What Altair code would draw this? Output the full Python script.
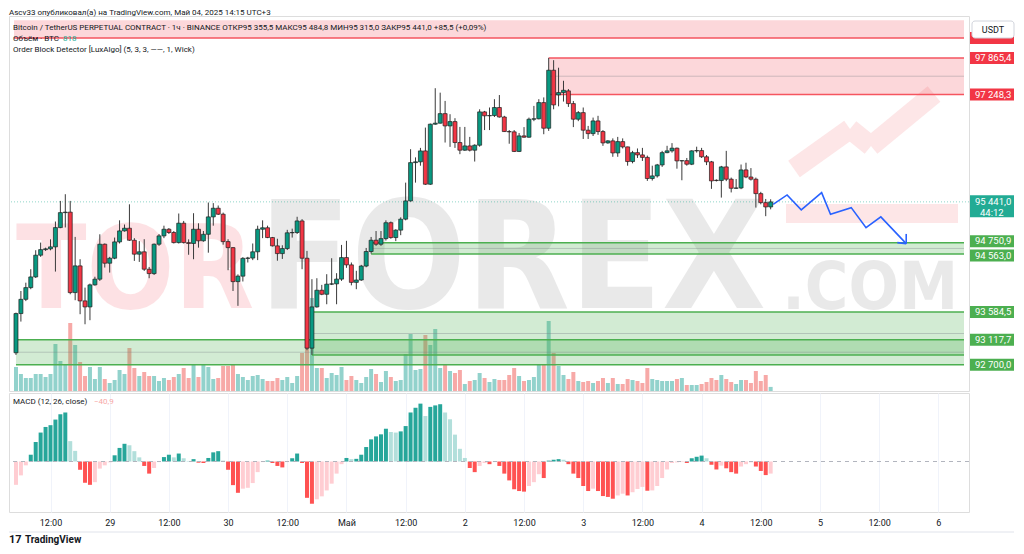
import altair as alt
import pandas as pd

HOUR = 3600000


def ms(s):
    return int(pd.Timestamp(s, tz="UTC").timestamp() * 1000)


# ---------------- data ----------------
first_candle = "2025-04-28 05:00"

open_ = [92900, 93560, 93800, 93997, 94177, 94543, 94637, 94650, 94683, 95008,
         95260, 95268, 93913, 94363, 93773, 93672, 94043, 94139, 94728, 94408,
         94492, 94767, 94952, 94997, 94795, 94560, 94600, 94307, 94233, 94728,
         94868, 94980, 94925, 94755, 95082, 94755, 94740, 94980, 94785, 94895,
         95188, 95334, 95233, 94772, 94670, 94098, 94190, 94490, 94495, 94600,
         94980, 95005, 94840, 94700, 94570, 94655, 94920, 94925, 95120, 94492,
         92977, 93672, 93953, 93885, 94055, 94060, 94140, 94503, 94380, 94085,
         94125, 94360, 94605, 94795, 94728, 94822, 95090, 94840, 94965, 95150,
         95457, 96102, 96115, 96299, 95738, 96749, 96766, 96927, 96720, 96793,
         96440, 96311, 96383, 96311, 96395, 96956, 96890, 96895, 97030, 96870,
         96625, 96620, 96290, 96552, 96530, 96833, 96840, 97113, 96681, 97658,
         97242, 97282, 97310, 97096, 96833, 96944, 96648, 96590, 96804, 96625,
         96434, 96468, 96265, 96456, 96367, 96120, 96270, 96232, 96190, 95834,
         95878, 96063, 96270, 96300, 96345, 96131, 96135, 96075, 96300, 96305,
         96200, 96115, 95805, 95800, 96030, 95823, 95670, 95675, 95979, 95860,
         95823, 95580, 95428, 95355.5]
high_ = [93576, 93940, 94080, 94307, 94627, 94755, 94670, 94810, 95110, 95457,
         95570, 95457, 94851, 94475, 93997, 94065, 94180, 94895, 94740, 94515,
         94840, 95130, 95060, 95400, 94830, 94780, 94812, 94345, 94740, 94900,
         95040, 95000, 94950, 95245, 95120, 94810, 95250, 95080, 94950, 95430,
         95420, 95380, 95260, 94812, 94680, 94220, 94510, 94515, 94740, 95040,
         95130, 95040, 94850, 94820, 94710, 94970, 94990, 95190, 95150, 94615,
         94139, 94155, 94043, 94223, 94492, 94240, 94716, 94785, 94420, 94280,
         94380, 94665, 94850, 94950, 94950, 95130, 95110, 94980, 95180, 95765,
         96328, 96190, 96350, 96692, 96760, 97355, 97280, 97141, 96917, 96850,
         96703, 96703, 96535, 96410, 97000, 96973, 97030, 97170, 97240, 96890,
         96650, 96650, 96600, 96700, 96860, 97057, 97170, 97200, 97865.4, 97827,
         97700, 97480, 97340, 97140, 96970, 97030, 96720, 96860, 96890, 96650,
         96480, 96510, 96535, 96510, 96370, 96300, 96340, 96350, 96220, 96050,
         96080, 96300, 96385, 96430, 96355, 96140, 96180, 96310, 96370, 96350,
         96230, 96130, 95820, 96047, 96300, 95850, 95825, 96070, 96100, 96010,
         95850, 95610, 95490, 95484.8]
low_ = [92864, 93425, 93770, 93970, 94160, 94515, 94615, 94625, 94267, 94998,
        95010, 93885, 93785, 93549, 93380, 93448, 94030, 94110, 94335, 94250,
        94475, 94740, 94940, 94784, 94447, 94430, 94278, 94155, 94210, 94700,
        94830, 94900, 94740, 94740, 94740, 94550, 94475, 94670, 94770, 94585,
        95040, 95220, 94720, 94290, 93940, 93690, 94100, 94420, 94460, 94460,
        94830, 94830, 94690, 94450, 94480, 94630, 94840, 94900, 94307, 92943,
        92864, 93660, 93870, 93717, 94040, 93717, 94110, 94330, 94035, 93970,
        94110, 94340, 94570, 94700, 94700, 94790, 94820, 94780, 94880, 95130,
        95445, 95765, 96050, 95727, 95727, 96740, 96760, 96440, 96367, 96350,
        96244, 96300, 96290, 96120, 96370, 96650, 96650, 96870, 96860, 96620,
        96420, 96280, 96280, 96520, 96520, 96800, 96830, 96580, 96636, 97000,
        97050, 97130, 97040, 96700, 96800, 96500, 96500, 96550, 96570, 96384,
        96420, 96200, 96200, 96340, 96050, 96090, 96180, 96130, 95794, 95800,
        95850, 96030, 96260, 96270, 96000, 95805, 96050, 96060, 96270, 96180,
        96060, 95660, 95785, 95513, 95790, 95600, 95660, 95655, 95840, 95800,
        95345, 95400, 95200, 95315]
close_ = [93560, 93800, 93997, 94177, 94543, 94637, 94650, 94683, 95008, 95260,
          95268, 93913, 94363, 93773, 93672, 94043, 94139, 94728, 94408, 94492,
          94767, 94952, 94997, 94795, 94560, 94600, 94307, 94233, 94728, 94868,
          94980, 94925, 94755, 95082, 94755, 94740, 94980, 94785, 94895, 95188,
          95334, 95233, 94772, 94670, 94098, 94190, 94490, 94495, 94600, 94980,
          95005, 94840, 94700, 94570, 94655, 94920, 94925, 95120, 94492, 92977,
          93672, 93953, 93885, 94055, 94060, 94140, 94503, 94380, 94085, 94125,
          94360, 94605, 94795, 94728, 94822, 95090, 94840, 94965, 95150, 95457,
          96102, 96115, 96299, 95738, 96749, 96766, 96927, 96720, 96793, 96440,
          96311, 96383, 96311, 96395, 96956, 96890, 96895, 97030, 96870, 96625,
          96620, 96290, 96552, 96530, 96833, 96840, 97113, 96681, 97658, 97074,
          97282, 97320, 97096, 96833, 96944, 96648, 96590, 96804, 96625, 96434,
          96468, 96265, 96456, 96367, 96120, 96270, 96232, 96190, 95834, 95878,
          96063, 96270, 96300, 96345, 96131, 96135, 96075, 96300, 96305, 96200,
          96115, 95794, 95800, 96030, 95823, 95670, 95675, 95979, 95860, 95823,
          95580, 95428, 95355.5, 95441]
volume_btc = [4800, 3400, 2600, 2600, 3400, 3400, 2800, 3400, 9400, 6000,
              5400, 13600, 9200, 5800, 3000, 4800, 2400, 4800, 2400, 1600,
              2200, 4200, 3400, 8600, 4600, 3000, 3800, 3000, 3000, 2000,
              2600, 2200, 2800, 3400, 4600, 2600, 5400, 2800, 5400, 4800,
              2400, 2600, 5000, 5000, 5400, 3400, 2800, 2200, 3000, 3200,
              2400, 2000, 2000, 2600, 2200, 2800, 1600, 3000, 7600, 13600,
              18600, 4600, 4600, 2600, 3600, 3200, 4800, 2200, 3000, 2200,
              1600, 2800, 4400, 3400, 1800, 4000, 2800, 2000, 2200, 7400,
              11400, 4200, 4400, 11200, 9200, 12400, 4600, 5400, 4000, 3600,
              4200, 1400, 2000, 2200, 3600, 2600, 1800, 2400, 2200, 2200,
              3200, 4600, 3000, 2000, 2200, 2800, 5400, 5400, 14000, 7600,
              5000, 3200, 2400, 3800, 2000, 1800, 2000, 1600, 2000, 2600,
              1600, 2600, 1400, 1400, 2400, 2200, 2000, 1600, 4600, 2400,
              2200, 2000, 2000, 2000, 2400, 2600, 1200, 1200, 1200, 1400,
              1800, 2600, 2200, 3200, 2400, 1800, 1400, 2200, 2200, 1600,
              4000, 2000, 3200, 818]
macd_hist = [-79, -47, -13, 23, 66, 98, 117, 123, 142, 160,
             166, 69, 36, -28, -72, -79, -70, -24, -13, -3,
             21, 46, 60, 55, 35, 14, -15, -41, -22, -2,
             15, 23, 14, 27, 11, 2, 8, -4, -5, 12,
             31, 35, 3, -28, -80, -106, -92, -89, -73, -36,
             -2, 3, -5, -15, -20, -2, 11, 27, -5, -123,
             -143, -128, -118, -98, -75, -41, -9, 12, 8, 9,
             23, 49, 75, 85, 92, 111, 100, 98, 102, 120,
             166, 182, 196, 154, 185, 190, 194, 166, 143, 91,
             43, 12, -22, -36, -15, -5, -9, -2, -15, -41,
             -64, -94, -100, -102, -83, -70, -43, -56, 3, 6,
             8, 6, -9, -41, -56, -83, -100, -92, -100, -117,
             -120, -126, -115, -109, -115, -104, -93, -86, -99, -98,
             -83, -56, -27, -5, -3, -2, -5, 11, 16, 20,
             11, -11, -27, -14, -23, -36, -41, -17, -9, -3,
             -17, -32, -46, -40.9]

zone_kind = ["bear", "bear", "bull", "bull", "bull"]
zone_start = ["2025-04-28 04:36", "2025-05-02 17:00", "2025-05-01 05:00",
              "2025-04-30 17:00", "2025-04-28 05:00"]
zone_bottom = [98200.0, 97248.3, 94563.0, 92864.0, 92700.0]
zone_top = [98500.0, 97865.4, 94750.9, 93584.5, 93117.7]

label_price = [98200.0, 97865.4, 97248.3, 94750.9, 94563.0, 93584.5, 93117.7, 92700.0]
label_kind = ["bear", "bear", "bear", "bull", "bull", "bull", "bull", "bull"]
last_price = 95441.0
countdown = "44:12"

fc_time = ["2025-05-04 14:30", "2025-05-04 17:20", "2025-05-04 20:12",
           "2025-05-05 00:20", "2025-05-05 02:08", "2025-05-05 06:20",
           "2025-05-05 09:20", "2025-05-05 12:20", "2025-05-05 17:29"]
fc_price = [95400, 95558, 95306, 95597, 95233, 95344, 95007, 95188, 94738]
arrow_time = ["2025-05-05 17:29", "2025-05-05 15:41"]
arrow_price = [94901, 94755]

price_ticks = list(range(92400, 98001, 400))
hidden_ticks = [97200, 95200, 94800, 93600, 93200]   # covered by price labels
macd_ticks = [-100, 0, 100, 200]
time_ticks = [ms("2025-04-28 12:00") + i * 12 * HOUR for i in range(16)]

# ---------------- layout ----------------
W, H, HM = 960, 375, 119
PX_PER_H = 4.9845
FONT = "Roboto"
TXT = "#131722"
UP, DOWN = "#089981", "#f23645"
X0 = ms("2025-04-28 04:36")
X1 = int(X0 + W / PX_PER_H * HOUR)
XS = alt.Scale(type="utc", domain=[X0, X1], nice=False)
YS = alt.Scale(domain=[92256, 98571], nice=False, zero=False)
MS = alt.Scale(domain=[-171, 232], nice=False, zero=False)


def fmt(p):
    return f"{p:,.1f}".replace(",", " ").replace(".", ",")


t0 = ms(first_candle)
n = len(close_)
candles = pd.DataFrame({
    "t": [t0 + i * HOUR for i in range(n)],
    "o": open_, "h": high_, "l": low_, "c": close_, "v": volume_btc,
})

cats = []
prev = None
for v in macd_hist:
    p = v if prev is None else prev
    if v >= 0:
        cats.append("pos_up" if v > p else "pos_dn")
    else:
        cats.append("neg_dn" if v < p else "neg_up")
    prev = v
macd = pd.DataFrame({"t": candles["t"], "v": macd_hist, "cat": cats})

zones = pd.DataFrame({
    "s": [ms(s) for s in zone_start], "e": [X1] * len(zone_kind),
    "b": zone_bottom, "top": zone_top, "kind": zone_kind,
})
zones["mid"] = (zones["b"] + zones["top"]) / 2
zlines = pd.concat([
    zones.iloc[1:][["s", "e", "kind"]].assign(p=zones.iloc[1:]["top"]),
    zones[["s", "e", "kind"]].assign(p=zones["b"]),
])
zmid = zones.iloc[1:][["s", "e"]].assign(p=zones.iloc[1:]["mid"])

labels = pd.DataFrame({"p": label_price, "kind": label_kind,
                       "txt": [fmt(p) for p in label_price]})
lastdf = pd.DataFrame({"p": [last_price], "txt": [fmt(last_price)], "cd": [countdown]})
fc = pd.DataFrame({"t": [ms(s) for s in fc_time], "p": fc_price})
arrow = pd.DataFrame({"t": [ms(fc_time[-1])] * 2, "p": [fc_price[-1]] * 2,
                      "t2": [ms(s) for s in arrow_time], "p2": arrow_price})
one = pd.DataFrame({"a": [0]})

hidden_js = "[" + ",".join(str(v) for v in hidden_ticks) + "]"
x_grid_axis = alt.Axis(values=time_ticks, grid=True, gridColor="#f0f3fa", labels=False,
                       ticks=False, domain=True, domainColor="#e0e3eb", title=None)
y_price_axis = alt.Axis(orient="right", values=price_ticks, grid=True, gridColor="#f0f3fa",
                        ticks=False, domain=False, labelPadding=8, labelFontSize=9.5,
                        labelColor=TXT, labelFlush=False, labelOverlap=False, title=None,
                        labelExpr=f"indexof({hidden_js}, datum.value) >= 0 ? '' : "
                                  "replace(replace(format(datum.value, ',.1f'), ',', ' '), '.', ',')")


def X(field="t"):
    return alt.X(f"{field}:T", scale=XS, axis=None)


def Y(field="p"):
    return alt.Y(f"{field}:Q", scale=YS, axis=None)


def text(s, x, y, size=8, color=TXT, weight="normal", align="left",
         baseline="middle", font=FONT, opacity=1):
    return alt.Chart(one).mark_text(
        text=s, align=align, baseline=baseline, fontSize=size, color=color,
        fontWeight=weight, font=font, opacity=opacity
    ).encode(x=alt.value(x), y=alt.value(y))


def vrule(x, y, x2, y2, color, width, opacity=1):
    return alt.Chart(one).mark_rule(color=color, strokeWidth=width, opacity=opacity,
                                    strokeCap="butt").encode(
        x=alt.value(x), y=alt.value(y), x2=alt.value(x2), y2=alt.value(y2))


# ---------------- watermark ----------------
WM = "Liberation Sans Narrow, DejaVu Sans Condensed, sans-serif"
watermark = alt.layer(
    text("TOR", 7, 292, size=115, color="#f23645", weight="bold", baseline="alphabetic",
         font=WM, opacity=0.14),
    text("FOREX", 250, 292, size=150, color="#9e9e9e", weight="bold", baseline="alphabetic",
         font=WM, opacity=0.22),
    text(".COM", 949, 293, size=66, color="#9e9e9e", weight="bold", baseline="alphabetic",
         align="right", font=WM, opacity=0.22),
    alt.Chart(one).mark_rect(color="#fde6e7").encode(
        x=alt.value(777), x2=alt.value(949), y=alt.value(188), y2=alt.value(207)),
    vrule(785, 153, 841, 113, "#fde6e7", 20),
    vrule(841, 113, 862, 130, "#fde6e7", 20),
    vrule(862, 130, 925, 78, "#fde6e7", 20),
)

# ---------------- price pane ----------------
vol = alt.Chart(candles).mark_bar(size=4, opacity=0.5).encode(
    x=X(),
    y=alt.Y("v:Q", scale=alt.Scale(domain=[0, 75000]), axis=None),
    color=alt.condition("datum.c >= datum.o", alt.value("#26a69a"), alt.value("#ef5350")),
)

zone_rect = alt.Chart(zones).mark_rect(clip=True).encode(
    x=X("s"), x2="e:T", y=Y("b"), y2="top:Q",
    color=alt.condition("datum.kind == 'bear'", alt.value("#f23645"), alt.value("#4caf50")),
    opacity=alt.condition("datum.kind == 'bear'", alt.value(0.2), alt.value(0.25)),
)
zone_line = alt.Chart(zlines).mark_rule(strokeWidth=1.5).encode(
    x=X("s"), x2="e:T", y=Y("p"),
    color=alt.condition("datum.kind == 'bear'", alt.value("#f5555f"), alt.value("#4caf50")),
)
zone_mid = alt.Chart(zmid).mark_rule(strokeWidth=1, color="#787b86", opacity=0.35).encode(
    x=X("s"), x2="e:T", y=Y("p"))

last_line = alt.Chart(lastdf).mark_rule(color="#22ab94", strokeDash=[1, 2], opacity=0.5).encode(
    y=Y("p"))

wick = alt.Chart(candles).mark_rule(color="#3a3a3a", strokeWidth=1).encode(
    x=alt.X("t:T", scale=XS, axis=x_grid_axis),
    y=alt.Y("l:Q", scale=YS, axis=y_price_axis), y2="h:Q")
body = alt.Chart(candles).mark_bar(size=4, stroke="#1f1f1f", strokeWidth=0.7).encode(
    x=X(), y=Y("o"), y2="c:Q",
    color=alt.condition("datum.c >= datum.o", alt.value(UP), alt.value(DOWN)))

fc_line = alt.Chart(fc).mark_line(color="#2962ff", strokeWidth=1.6).encode(x=X(), y=Y())
fc_arrow = alt.Chart(arrow).mark_rule(color="#2962ff", strokeWidth=1.6).encode(
    x=X(), y=Y(), x2="t2:T", y2="p2:Q")

# right-hand price labels (boxes 44 px wide)
BOX = "M-1,-0.2727L1,-0.2727L1,0.2727L-1,0.2727Z"
BOX2 = "M-1,-0.2955L1,-0.2955L1,0.7045L-1,0.7045Z"
BCX = W + 23


def label_layers(df, dy):
    box = alt.Chart(df).mark_point(shape=BOX, filled=True, size=1936, opacity=1,
                                   strokeWidth=0, yOffset=dy).encode(
        x=alt.value(BCX), y=Y(),
        color=alt.condition("datum.kind == 'bear'", alt.value("#f23645"),
                            alt.value("#4caf50")))
    txt = alt.Chart(df[df["p"] < 98000]).mark_text(
        align="left", baseline="middle", fontSize=9.5, color="white", font=FONT,
        dy=dy).encode(x=alt.value(W + 6), y=Y(), text="txt:N")
    return [box, txt]


lbl_layers = (label_layers(labels[~labels["p"].isin([94750.9, 94563.0])], 0)
              + label_layers(labels[labels["p"] == 94750.9], -1.5)
              + label_layers(labels[labels["p"] == 94563.0], 1.5))

last_box = alt.Chart(lastdf).mark_point(shape=BOX2, filled=True, size=1936, opacity=1,
                                        strokeWidth=0, color="#22ab94").encode(
    x=alt.value(BCX), y=Y())
last_txt = alt.Chart(lastdf).mark_text(align="left", baseline="middle", fontSize=9.5,
                                       color="white", font=FONT).encode(
    x=alt.value(W + 6), y=Y(), text="txt:N")
last_cd = alt.Chart(lastdf).mark_text(align="left", baseline="middle", fontSize=9.5, dy=11,
                                      color="white", font=FONT).encode(
    x=alt.value(W + 11), y=Y(), text="cd:N")

usdt_box = alt.Chart(one).mark_rect(fill="white", stroke="#d1d4dc", cornerRadius=3).encode(
    x=alt.value(W + 3), x2=alt.value(W + 45), y=alt.value(5), y2=alt.value(22))

price_group = alt.layer(
    zone_rect, zone_line, zone_mid, last_line, wick, body, fc_line, fc_arrow,
    *lbl_layers, last_box, last_txt, last_cd, usdt_box,
    text("USDT", W + 24, 13.5, size=9, align="center"),
    text("Ascv33 опубликовал(а) на TradingView.com, Май 04, 2025 14:15 UTC+3", 0, -3),
    text("Bitcoin / TetherUS PERPETUAL CONTRACT · 1ч · BINANCE  ОТКР95 355,5  МАКС95 484,8  "
         "МИН95 315,0  ЗАКР95 441,0  +85,5 (+0,09%)", 4, 12),
    text("Объём · BTC", 4, 23),
    text("818", 54, 23, color="#22ab94"),
    text("Order Block Detector [LuxAlgo] (5, 3, 3, ——, 1, Wick)", 4, 34),
)

price_chart = alt.layer(watermark, vol, price_group).resolve_scale(
    y="independent").properties(width=W, height=H)

# ---------------- MACD pane ----------------
time_axis = alt.Axis(values=time_ticks, grid=True, gridColor="#f0f3fa", ticks=False,
                     domain=False, labelPadding=6, labelFontSize=9, labelColor=TXT,
                     labelFlush=False, labelOverlap=False, title=None,
                     labelExpr="utchours(datum.value) == 12 ? '12:00' : "
                               "(utcdate(datum.value) == 1 ? 'Май' : '' + utcdate(datum.value))")
macd_axis = alt.Axis(orient="right", values=macd_ticks, grid=True, gridColor="#f0f3fa",
                     ticks=False, domain=False, labelPadding=8, labelFontSize=9.5,
                     labelColor=TXT, labelFlush=False, title=None,
                     labelExpr="replace(format(datum.value, '.1f'), '.', ',')")

macd_bars = alt.Chart(macd).mark_bar(size=4).encode(
    x=alt.X("t:T", scale=XS, axis=time_axis),
    y=alt.Y("v:Q", scale=MS, axis=macd_axis),
    color=alt.Color("cat:N", legend=None, scale=alt.Scale(
        domain=["pos_up", "pos_dn", "neg_dn", "neg_up"],
        range=["#26a69a", "#b2dfdb", "#ff5252", "#ffcdd2"])),
)
zero = alt.Chart(pd.DataFrame({"v": [0]})).mark_rule(
    color="#b2b5be", strokeDash=[4, 4]).encode(y=alt.Y("v:Q", scale=MS, axis=None))

macd_chart = alt.layer(
    macd_bars, zero,
    text("MACD (12, 26, close)", 4, 9),
    text("−40,9", 85, 9, color="#f7a9a7"),
    vrule(0, 139, W + 45, 139, "#e0e3eb", 1),
    text("17", 0, 147, size=11, weight="bold"),
    text("TradingView", 16, 147, size=10, weight="bold"),
).properties(width=W, height=HM)

chart = alt.vconcat(price_chart, macd_chart, spacing=0, padding=0).configure_view(
    stroke=None).configure(font=FONT).configure_axis(labelFont=FONT)

chart.save("out.html", embed_options={"renderer": "svg", "actions": False})
